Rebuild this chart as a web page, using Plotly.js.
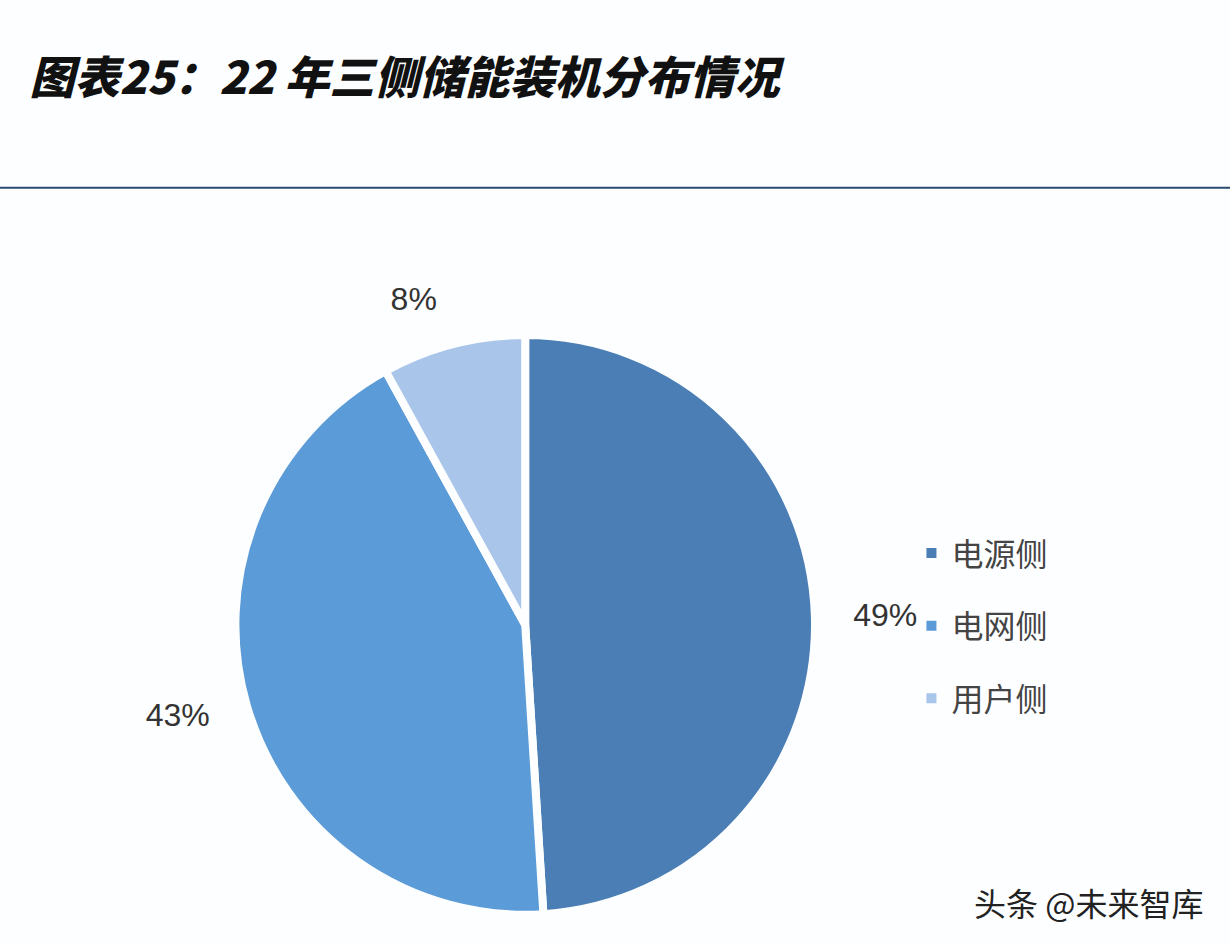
<!DOCTYPE html>
<html>
<head>
<meta charset="utf-8">
<script src="https://cdn.plot.ly/plotly-3.0.1.min.js"></script>
<style>
  html, body { margin: 0; padding: 0; background: #fdfeff; }
  #chart { width: 1230px; height: 944px; }
</style>
</head>
<body>
<div id="chart"></div>
<script>
const sides  = ['电源侧', '电网侧', '用户侧'];
const shares = [49, 43, 8];
const colors = ['#4a7eb5', '#5b9bd7', '#a9c5ea'];

const pie = {
  type: 'pie', labels: sides, values: shares,
  sort: false, direction: 'clockwise', rotation: 0,
  marker: { colors: colors, line: { color: '#fdfeff', width: 8 } },
  textinfo: 'none',
  domain: { x: [0.191, 0.663], y: [0.031, 0.645] },
  showlegend: false, hoverinfo: 'label+percent',
};

// same pie, a bit larger and transparent: only carries the % labels further out
const labelRing = {
  type: 'pie', labels: sides, values: shares,
  sort: false, direction: 'clockwise', rotation: 0,
  marker: { colors: sides.map(() => 'rgba(0,0,0,0)'), line: { width: 0 } },
  textinfo: 'percent', textposition: 'outside',
  outsidetextfont: { family: 'Liberation Sans, Arial', size: 32, color: '#333' },
  domain: { x: [0.166, 0.688], y: [0.0, 0.676] },
  showlegend: false, hoverinfo: 'skip',
};

// legend items as dummy traces, so each can sit in its own group with a gap
const keys = sides.map((s, i) => ({
  type: 'scatter', mode: 'markers', x: [null], y: [null],
  name: s, legendgroup: s,
  marker: { symbol: 'square', size: 10, color: colors[i] },
}));

Plotly.newPlot('chart', [pie, labelRing, ...keys], {
  width: 1230, height: 944,
  margin: { l: 0, r: 0, t: 0, b: 0 },
  paper_bgcolor: '#fdfeff', plot_bgcolor: '#fdfeff',
  xaxis: { visible: false }, yaxis: { visible: false },
  title: {
    text: '图表25：22 年三侧储能装机分布情况',
    x: 0.024, xanchor: 'left', y: 0.917, yanchor: 'middle',
    font: { family: 'Noto Sans CJK SC', size: 45, weight: 900, style: 'italic', color: '#111' },
  },
  legend: {
    x: 0.741, xanchor: 'left', y: 0.443, yanchor: 'top',
    font: { family: 'Noto Sans CJK SC', size: 32, color: '#444' },
    tracegroupgap: 28, bgcolor: 'rgba(0,0,0,0)',
  },
  shapes: [{
    type: 'line', xref: 'paper', yref: 'paper', x0: 0, x1: 1, y0: 0.801, y1: 0.801,
    line: { color: '#2b4a70', width: 2 },
  }],
  annotations: [{
    text: '头条 @未来智库', xref: 'paper', yref: 'paper',
    x: 0.98, xanchor: 'right', y: 0.044, yanchor: 'middle', showarrow: false,
    font: { family: 'Noto Sans CJK SC', size: 32, color: '#222' },
  }],
}, { displayModeBar: false, staticPlot: true });
</script>
</body>
</html>
